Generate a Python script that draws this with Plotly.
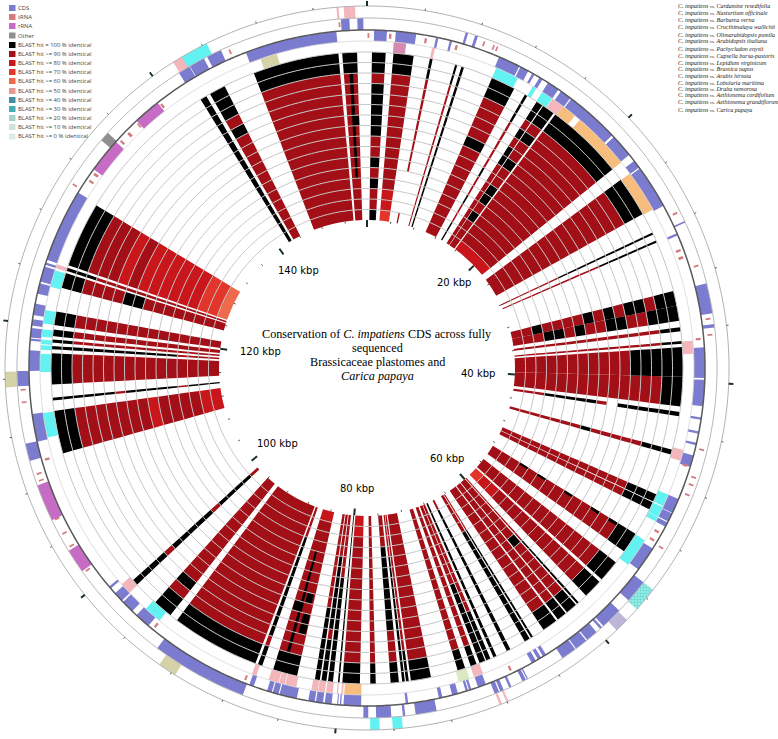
import numpy as np
import plotly.graph_objects as go

GENOME_KBP = 155.7

# ---- BLAST hits: start kbp, end kbp, identity per ring (inner ring first)
# k = 100 %, r = >=90 %, m = >=80 %, n = >=70 %, o = >=60 %, . = no hit
hit_start = [0.39, 2.08, 4.97, 7.01, 7.53, 10.08, 12.98, 14.06, 14.66, 15.83, 23.10, 27.94, 28.63,
             32.83, 34.00, 35.72, 36.81, 37.28, 39.62, 42.39, 45.41, 49.13, 49.82, 52.64, 52.64, 55.36, 57.35,
             59.64, 59.94, 60.98, 61.93, 64.14, 64.44, 66.17, 67.38, 67.90, 68.34, 69.07, 70.02,
             72.79, 74.56, 74.87, 75.34, 77.16, 78.41, 80.01, 80.53, 81.05, 81.57,
             83.39, 84.42, 84.34, 83.47, 83.56, 86.24, 86.80, 94.50, 98.05, 109.99, 114.22, 115.48,
             118.25, 118.77, 119.28, 120.15, 123.13, 124.52, 124.99, 141.95, 142.81, 146.62,
             153.75, 154.23, 154.32]
hit_end = [1.47, 3.68, 5.19, 7.18, 7.74, 12.02, 13.19, 14.58, 15.66, 22.06, 26.30, 28.11, 28.80,
           34.00, 35.21, 36.03, 37.02, 39.62, 41.95, 42.73, 45.80, 49.74, 50.43, 54.28, 52.90, 57.09, 58.86,
           59.81, 60.85, 61.76, 63.15, 64.31, 64.88, 66.48, 67.64, 68.25, 68.81, 69.55, 70.63,
           74.39, 74.78, 75.08, 75.99, 77.59, 79.79, 80.14, 80.92, 81.44, 81.96,
           85.33, 84.68, 85.29, 84.12, 84.25, 86.59, 93.85, 96.06, 98.52, 113.40, 114.44, 117.94,
           118.51, 119.02, 119.80, 121.23, 124.34, 124.78, 130.18, 142.47, 144.11, 153.45,
           154.92, 154.53, 154.92]
hit_rings = ["krrkrkrrkkkkkrkk", "nmmrrrrrrrrrrrkk", "r....rrrrrrrrrkk", "rrrrrrrrrrrrrrkk", "kkkkkkkkkkkkkkkk",
             "rrrrrrrrrkrrrrkk", "kkrrkrrkrrrrrkkk", "rrrrrrrrrkkrkrkk", "rrrkrkkrrkrrkrkk", "mrrrrrrrrrrrrrkk",
             "rrrrrrrrrrrrrrkk", "rrrrrrkkkkkkkkkk", "rrrrrrrrrrkkkkkk",
             "rrkrrrrkrkrkkrkk", "rrrkkrkrrkkrrkkk", "rrrrrrrrrrrrrrkk", "rrrrrrrrrrrrrrkk",
             "rrrrrrrrrrrkkkkk", "rrrrrrrrrrrrrrkk", "rrrkkkkkr.kkkkkk", "rrrrrrrkrrrrrkkk",
             "rrrrrrrrrrrrrkkk", "rrrrrrrrrrrrrkkk", "rrrrrrrrrrrrrrkk", "...k.k..k..k.k..",
             "rrrrrrrrrrrrrrkk", "nmmrrrrrrrrrrrkk",
             "rrrrrrrrkkkkkkkk", "rrrrrrrkrrrrrrkk", "rrrrrrrrrrrrrrkk", "rrrrrrrrrrrrrrkk",
             "rrrrkkkkkkkkkkkk", "rrrrkkkkkkkkkkkk", "rkkkkkkkkkkkkkkk", "kkkkkkkkkkkkkkkk",
             "rrrrrrrrrrrkkkkk", "rrrrrrrrkkkkkkkk", "rrrrrrrrrrrrrrkk", "rrrrrrrrrrrrrrkk",
             "rrrrrrrrrrrrrrkk", "rrrrrrrrrrrrrkkk", "rrrrkkkkkkkkkkkk", "rrrkkkkkkkkrrrkk", "rrrrrrrrrrrrrrkk",
             "mmrrrrrrrrrrrrkk", "kkkkkkkkkkkkkkkk", "rrrrrrkkkkkkkkkk", "rrrrkkkkkkkrkkkk", "rrrrrrrrrkkkkkkk",
             "mrrrrrrrrrrrrrkk", "....kkkkkkkkkk..", ".........k......", "..........kk....", "........k.......",
             "rrrkkkkkkkkkkrkk", "rrrrrrrrrrrrrrkk", "rrrrrrrrrrrrkrkk", "rkkkkrkkkkkrkkkk",
             "mmrrrrmrrrrrrrkk", "kkkrkkkkkrkkkkkk", "rrrrrrrrrrrrrrkk",
             "rrrrkkkkkkkkkkkk", "rrrrrrrrrrrrrrkk", "rrrrrrrrrrrrrrkk", "rrrrrrrrrrrrrrkk",
             "rrrrrrrrkkrrrrkk", "rrrrrrrrrrrrrkkk", "onnmmmmmmrmrrrkk", "kkkkkkkkkkkkkkkk",
             "rrrrrrrrrrrkrkkk", "rrrrrrrrrrrrrrkk", "rrrrrrrrrrrrrrkk", "....kkkkkkkkkk..", ".........k......"]

# ---- Annotation tracks (kbp)
cds_inner = [(0.52, 1.47), (2.12, 3.63), (5.10, 5.28), (6.14, 6.31), (9.95, 11.59), (11.68, 12.33), (12.67, 12.85),
             (13.28, 13.54), (14.01, 14.92), (15.14, 16.00), (16.09, 20.11), (20.28, 22.01), (22.58, 23.18),
             (23.27, 26.51), (28.76, 28.93), (37.41, 39.66), (39.79, 41.74), (42.56, 42.73), (43.60, 43.77),
             (44.46, 44.63), (45.41, 46.28), (48.79, 49.91), (49.95, 50.60), (50.69, 51.04), (52.89, 54.75),
             (64.01, 64.27), (64.44, 64.70), (64.88, 65.22), (68.94, 69.55), (70.07, 70.24), (70.32, 70.50),
             (71.10, 71.54), (72.27, 72.53), (74.82, 75.00), (78.28, 79.58), (79.75, 79.85), (79.97, 80.05),
             (80.45, 80.96), (81.09, 81.61), (81.70, 82.18), (83.04, 84.34), (84.42, 84.86), (84.94, 85.29),
             (86.33, 86.67), (95.28, 96.45), (96.88, 97.83), (97.96, 98.70), (99.17, 99.35), (111.33, 113.40),
             (116.56, 118.07), (118.77, 118.94), (119.02, 119.72), (119.89, 120.36), (120.67, 121.53),
             (122.27, 123.05), (123.18, 124.34), (124.47, 124.65), (124.86, 130.31), (146.62, 153.45)]
rrna_inner = [(132.35, 134.94), (137.10, 139.14)]
trna_inner = [(0.04, 0.17), (1.64, 1.82), (4.30, 4.47), (6.64, 6.81), (29.93, 30.10), (30.47, 30.68), (36.68, 36.85),
              (46.19, 46.36), (51.55, 51.72), (52.25, 52.42), (66.77, 66.94), (87.00, 87.15), (94.77, 94.94),
              (109.82, 109.99), (131.40, 131.57), (132.00, 132.20), (135.15, 135.32), (135.93, 136.15),
              (136.95, 137.08), (139.20, 139.37)]
cyan_hits = [(10.08, 11.89), (13.19, 13.49), (14.01, 14.92), (48.79, 49.74), (49.82, 50.65), (50.68, 51.04),
             (52.68, 54.93), (94.89, 96.27), (111.46, 113.36), (116.47, 117.86), (120.15, 121.19), (119.15, 119.72),
             (118.59, 118.94), (118.16, 118.51), (123.00, 124.30)]
orange_hits = [(15.92, 17.08), (17.56, 22.06), (23.14, 26.38), (78.28, 79.58)]
pink_hits = [(4.97, 5.19), (14.96, 15.92), (36.85, 37.84), (45.20, 46.06), (98.00, 98.87), (68.85, 69.59),
             (79.67, 79.80), (80.05, 80.15), (80.45, 80.96), (81.05, 81.57), (81.60, 82.09), (83.26, 84.12),
             (84.16, 84.60), (84.64, 85.42), (86.41, 86.76), (124.47, 124.78)]
mauve_hits = [(2.03, 2.98)]
green_hits = [(69.94, 70.80)]
tan_hits = [(147.48, 148.78)]

cds_outer = [(153.84, 154.45), (155.01, 155.44), (7.09, 7.27), (7.79, 8.00), (28.18, 28.30), (32.87, 35.03),
             (35.80, 36.05), (55.27, 56.92), (57.91, 59.47), (59.60, 59.77), (60.12, 60.98), (61.07, 61.98),
             (62.06, 63.15), (66.00, 66.09), (66.17, 66.43), (67.30, 67.47), (67.90, 68.16), (68.25, 68.59),
             (72.88, 74.39), (75.13, 75.30), (76.12, 77.20), (77.76, 78.11), (86.85, 93.77), (110.11, 111.37),
             (115.48, 116.56), (143.94, 145.02), (142.55, 143.68), (141.64, 142.51)]
trna_outer = [(8.50, 8.63), (9.24, 9.36), (9.50, 9.62), (27.35, 27.50), (31.42, 31.55), (35.32, 35.45), (36.48, 36.60),
              (44.80, 44.93), (46.87, 47.00), (47.43, 47.56), (48.20, 48.33), (52.44, 52.57), (101.20, 101.33),
              (103.30, 103.43), (104.35, 104.47), (105.50, 105.66), (108.50, 108.62), (109.00, 109.13),
              (114.25, 114.37), (115.15, 115.27), (130.56, 130.68), (145.52, 145.65), (153.66, 153.78)]
rrna_outer = [(101.42, 103.15), (105.62, 108.30)]
other_outer = [(134.33, 135.03)]

outer_pink = [(154.10, 154.88), (153.60, 153.75), (68.38, 68.55), (67.90, 68.05), (141.69, 142.47)]
outer_cyan = [(76.98, 77.63), (75.39, 76.08), (142.40, 144.33)]
outer_dotted = [(55.27, 57.00)]
outer_lilac = [(58.00, 59.00)]
outer_tan = [(91.69, 92.99), (115.44, 116.52)]

# ---- Texts
legend_labels = ["CDS", "tRNA", "rRNA", "Other", "BLAST hit = 100 % identical", "BLAST hit >= 90 % identical",
                 "BLAST hit >= 80 % identical", "BLAST hit >= 70 % identical", "BLAST hit >= 60 % identical",
                 "BLAST hit >= 50 % identical", "BLAST hit >= 40 % identical", "BLAST hit >= 30 % identical",
                 "BLAST hit >= 20 % identical", "BLAST hit >= 10 % identical", "BLAST hit >= 0 % identical"]
legend_colors = ["#7b7bcf", "#d27c80", "#c66cc4", "#8f8f8f", "#000000", "#a30f16", "#c8161b", "#e2362b",
                 "#ee6a4e", "#e39a94", "#3d8fa6", "#45aeb4", "#a5d2cc", "#cbe3d8", "#dfeae6"]
species = ["Cardamine resedifolia", "Nasturtium officinale", "Barbarea verna", "Crucihimalaya wallichii",
           "Olimarabidopsis pumila", "Arabidopsis thaliana", "Pachycladon enysii", "Capsella bursa-pastoris",
           "Lepidium virginicum", "Brassica napus", "Arabis hirsuta", "Lobularia maritima", "Draba nemorosa",
           "Aethionema cordifolium", "Aethionema grandiflorum", "Carica papaya"]
major_ticks = [0, 20, 40, 60, 80, 100, 120, 140]
major_labels = ["20 kbp", "40 kbp", "60 kbp", "80 kbp", "100 kbp", "120 kbp", "140 kbp"]

# ---- Styling / layout
W, H = 778, 739
CX, CY, RMAX = 367, 368, 367
R0, RING = 148.0, 10.5
N_RINGS = 16
TRACK_A = (316, 327)
TRACK_B = (327, 338)
TRACK_C = (338, 350)
TRACK_D = (350, 362)
IDENTITY = {"k": "#000000", "r": "#a30f16", "m": "#c8161b", "n": "#e2362b", "o": "#ee6a4e"}


def deg(kb):
    return float(kb) * 360.0 / GENOME_KBP


def bars(items, rad, color, pattern=None):
    th = [deg((a + b) / 2) for a, b in items]
    wd = [deg(b - a) for a, b in items]
    marker = dict(color=color, line=dict(width=0))
    if pattern:
        marker["pattern"] = pattern
    return go.Barpolar(theta=th, width=wd, r=[rad[1] - rad[0]] * len(items), base=[rad[0]] * len(items),
                       marker=marker, hoverinfo="skip", showlegend=False)


fig = go.Figure()

# BLAST rings
by_code = {}
for s, e, pat in zip(hit_start, hit_end, hit_rings):
    for i, c in enumerate(pat):
        if c != ".":
            by_code.setdefault(c, []).append((s, e, i))
for code in ["r", "m", "n", "o", "k"]:
    rows = by_code.get(code, [])
    fig.add_trace(go.Barpolar(theta=[deg((a + b) / 2) for a, b, _ in rows], width=[deg(b - a) for a, b, _ in rows],
                              r=[RING] * len(rows), base=[R0 + i * RING for _, _, i in rows],
                              marker=dict(color=IDENTITY[code], line=dict(width=0)), hoverinfo="skip",
                              showlegend=False))

# annotation tracks
for items, rad, col in [
    (cds_inner, TRACK_B, "#7b7bcf"), (rrna_inner, TRACK_B, "#c66cc4"), (trna_inner, (330, 335), "#d27c80"),
    (cyan_hits, TRACK_A, "#62f2f2"), (orange_hits, TRACK_A, "#f6bd7c"), (pink_hits, TRACK_A, "#f3b7bb"),
    (mauve_hits, TRACK_A, "#d68ab0"), (green_hits, TRACK_A, "#dbe9c2"), (tan_hits, TRACK_A, "#d6d2a8"),
    (cds_outer, TRACK_C, "#7b7bcf"), (trna_outer, (342, 347), "#d27c80"), (rrna_outer, TRACK_C, "#c66cc4"),
    (other_outer, TRACK_C, "#8f8f8f"),
    (outer_pink, TRACK_D, "#f3b7bb"), (outer_cyan, TRACK_D, "#62f2f2"),
    (outer_lilac, TRACK_D, "#bdb6d8"), (outer_tan, TRACK_D, "#d6d2a8"),
]:
    fig.add_trace(bars(items, rad, col))
fig.add_trace(bars(outer_dotted, TRACK_D, "#a5f0ea",
                   dict(shape=".", fgcolor="#2cc6bf", bgcolor="#a5f0ea", size=3, solidity=0.5)))

# concentric lines
circle = np.linspace(0, 360, 721)
for i in range(1, N_RINGS + 1):
    fig.add_trace(go.Scatterpolar(r=[R0 + i * RING] * len(circle), theta=circle, mode="lines",
                                  line=dict(color="#c4c4c4", width=1), hoverinfo="skip", showlegend=False))
for rad, col, lw in [(327, "#d4d4d4", 0.8), (350, "#b5b5b5", 1), (362, "#b0b0b0", 1), (338, "#5a5a5a", 1.5)]:
    fig.add_trace(go.Scatterpolar(r=[rad] * len(circle), theta=circle, mode="lines",
                                  line=dict(color=col, width=lw), hoverinfo="skip", showlegend=False))

# ticks
for kbs, spans, col, lw in [
    ([k for k in range(0, 156, 4) if k % 20], [(146, 148), (362, 364)], "#555555", 1),
    (major_ticks, [(141, 148), (362, 367)], "#17331f", 2),
]:
    rr, tt = [], []
    for k in kbs:
        for a, b in spans:
            rr += [a, b, None]
            tt += [deg(k), deg(k), None]
    fig.add_trace(go.Scatterpolar(r=rr, theta=tt, mode="lines", line=dict(color=col, width=lw),
                                  hoverinfo="skip", showlegend=False))

ann = []


def text(px, py, s, size, family, color="#000000", anchor="left"):
    ann.append(dict(x=px / W, y=1 - py / H, xref="paper", yref="paper", text=s, showarrow=False, xanchor=anchor,
                    yanchor="middle", font=dict(size=size, family=family, color=color), borderpad=0, borderwidth=0))


# kbp labels
label_pos = [(437, 283), (461, 373), (430, 458), (340, 488), (257, 443), (240, 351), (278, 270)]
for (px, py), s in zip(label_pos, major_labels):
    text(px, py, s, 10, "DejaVu Sans")

# title
TITLE_FONT = "Liberation Serif"
text(377, 334, "Conservation of <i>C. impatiens</i> CDS across fully", 12.2, TITLE_FONT, anchor="center")
text(377, 348, "sequenced", 12.2, TITLE_FONT, anchor="center")
text(377, 362, "Brassicaceae plastomes and", 12.2, TITLE_FONT, anchor="center")
text(377, 376, "<i>Carica papaya</i>", 12.2, TITLE_FONT, anchor="center")

# species list
species_y = [6.3, 13.3, 20.3, 27.3, 34.7, 41, 48.7, 55.7, 62.7, 69, 76.3, 83, 88.7, 95.3, 102.3, 109.7]
for y, s in zip(species_y, species):
    text(678, y, '<i>C. impatiens</i> <span style="font-size:4.5px">vs.</span> <i>%s</i>' % s, 6.0, TITLE_FONT, "#222222")

# legend
legend_y = [8, 17, 26, 35.5, 45, 54, 63, 72, 81, 91, 100, 109, 118, 127, 136.5]
shapes = []
for y, lab, col in zip(legend_y, legend_labels, legend_colors):
    shapes.append(dict(type="rect", xref="paper", yref="paper", x0=9 / W, x1=15.5 / W, y0=1 - (y + 3) / H,
                       y1=1 - (y - 3) / H, fillcolor=col, line=dict(width=0), layer="above"))
    text(18, y, lab, 5.9, "Open Sans", "#444444")

fig.update_layout(
    width=W, height=H, autosize=False, margin=dict(l=0, r=0, t=0, b=0), paper_bgcolor="white", showlegend=False,
    polar=dict(
        domain=dict(x=[(CX - RMAX) / W, (CX + RMAX) / W], y=[1 - (CY + RMAX) / H, 1 - (CY - RMAX) / H]),
        bgcolor="white", barmode="overlay", bargap=0,
        radialaxis=dict(visible=False, range=[0, RMAX]),
        angularaxis=dict(visible=False, direction="clockwise", rotation=90),
    ),
    annotations=ann, shapes=shapes,
)
fig.write_html("out.html", config=dict(displayModeBar=False),
               post_script="document.body.style.margin='0';document.documentElement.style.overflow='hidden';")
